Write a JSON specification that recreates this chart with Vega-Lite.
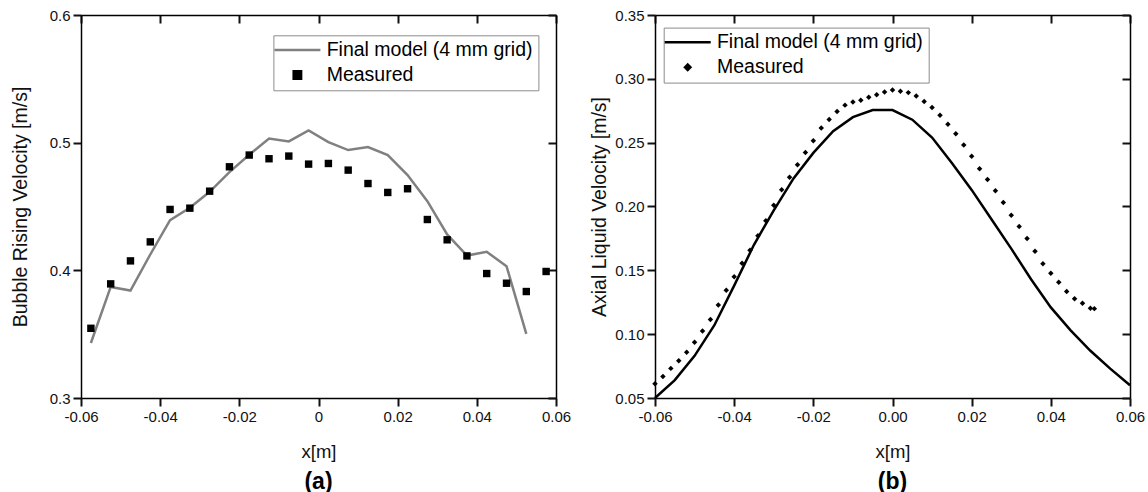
{
  "$schema": "https://vega.github.io/schema/vega-lite/v6.json",
  "background": "white",
  "padding": {"left": 10, "top": 8, "right": 5, "bottom": 5},
  "config": {
    "font": "Liberation Sans",
    "view": {"stroke": null},
    "axis": {
      "grid": false,
      "domainColor": "black",
      "domainWidth": 1.5,
      "labelFont": "Liberation Sans",
      "labelFontSize": 15,
      "labelColor": "#111111",
      "titleFont": "Liberation Sans",
      "titleFontWeight": "normal",
      "titleColor": "#111111"
    },
    "title": {"font": "Liberation Sans", "fontSize": 23, "fontWeight": "bold", "color": "black", "orient": "bottom", "offset": 10}
  },
  "datasets": {
    "a_model": [
      {"series": "Final model (4 mm grid)", "x": -0.0575, "y": 0.3431},
      {"series": "Final model (4 mm grid)", "x": -0.0525, "y": 0.3870},
      {"series": "Final model (4 mm grid)", "x": -0.0475, "y": 0.3842},
      {"series": "Final model (4 mm grid)", "x": -0.0425, "y": 0.4124},
      {"series": "Final model (4 mm grid)", "x": -0.0375, "y": 0.4393},
      {"series": "Final model (4 mm grid)", "x": -0.0325, "y": 0.4490},
      {"series": "Final model (4 mm grid)", "x": -0.0275, "y": 0.4615},
      {"series": "Final model (4 mm grid)", "x": -0.0225, "y": 0.4769},
      {"series": "Final model (4 mm grid)", "x": -0.0175, "y": 0.4905},
      {"series": "Final model (4 mm grid)", "x": -0.0125, "y": 0.5033},
      {"series": "Final model (4 mm grid)", "x": -0.0075, "y": 0.5010},
      {"series": "Final model (4 mm grid)", "x": -0.0025, "y": 0.5096},
      {"series": "Final model (4 mm grid)", "x": 0.0025, "y": 0.5004},
      {"series": "Final model (4 mm grid)", "x": 0.0075, "y": 0.4942},
      {"series": "Final model (4 mm grid)", "x": 0.0125, "y": 0.4965},
      {"series": "Final model (4 mm grid)", "x": 0.0175, "y": 0.4903},
      {"series": "Final model (4 mm grid)", "x": 0.0225, "y": 0.4746},
      {"series": "Final model (4 mm grid)", "x": 0.0275, "y": 0.4542},
      {"series": "Final model (4 mm grid)", "x": 0.0325, "y": 0.4281},
      {"series": "Final model (4 mm grid)", "x": 0.0375, "y": 0.4116},
      {"series": "Final model (4 mm grid)", "x": 0.0425, "y": 0.4145},
      {"series": "Final model (4 mm grid)", "x": 0.0475, "y": 0.4032},
      {"series": "Final model (4 mm grid)", "x": 0.0525, "y": 0.3502}
    ],
    "a_meas": [
      {"series": "Measured", "x": -0.0575, "y": 0.3546},
      {"series": "Measured", "x": -0.0525, "y": 0.3894},
      {"series": "Measured", "x": -0.0475, "y": 0.4074},
      {"series": "Measured", "x": -0.0425, "y": 0.4223},
      {"series": "Measured", "x": -0.0375, "y": 0.4477},
      {"series": "Measured", "x": -0.0325, "y": 0.4487},
      {"series": "Measured", "x": -0.0275, "y": 0.4620},
      {"series": "Measured", "x": -0.0225, "y": 0.4811},
      {"series": "Measured", "x": -0.0175, "y": 0.4903},
      {"series": "Measured", "x": -0.0125, "y": 0.4874},
      {"series": "Measured", "x": -0.0075, "y": 0.4895},
      {"series": "Measured", "x": -0.0025, "y": 0.4832},
      {"series": "Measured", "x": 0.0025, "y": 0.4837},
      {"series": "Measured", "x": 0.0075, "y": 0.4785},
      {"series": "Measured", "x": 0.0125, "y": 0.4680},
      {"series": "Measured", "x": 0.0175, "y": 0.4610},
      {"series": "Measured", "x": 0.0225, "y": 0.4639},
      {"series": "Measured", "x": 0.0275, "y": 0.4398},
      {"series": "Measured", "x": 0.0325, "y": 0.4239},
      {"series": "Measured", "x": 0.0375, "y": 0.4113},
      {"series": "Measured", "x": 0.0425, "y": 0.3975},
      {"series": "Measured", "x": 0.0475, "y": 0.3899},
      {"series": "Measured", "x": 0.0525, "y": 0.3834},
      {"series": "Measured", "x": 0.0575, "y": 0.3991}
    ],
    "b_model": [
      {"series": "Final model (4 mm grid)", "x": -0.060, "y": 0.050},
      {"series": "Final model (4 mm grid)", "x": -0.055, "y": 0.064},
      {"series": "Final model (4 mm grid)", "x": -0.050, "y": 0.083},
      {"series": "Final model (4 mm grid)", "x": -0.045, "y": 0.107},
      {"series": "Final model (4 mm grid)", "x": -0.040, "y": 0.138},
      {"series": "Final model (4 mm grid)", "x": -0.035, "y": 0.170},
      {"series": "Final model (4 mm grid)", "x": -0.030, "y": 0.197},
      {"series": "Final model (4 mm grid)", "x": -0.025, "y": 0.222},
      {"series": "Final model (4 mm grid)", "x": -0.020, "y": 0.242},
      {"series": "Final model (4 mm grid)", "x": -0.015, "y": 0.259},
      {"series": "Final model (4 mm grid)", "x": -0.010, "y": 0.270},
      {"series": "Final model (4 mm grid)", "x": -0.005, "y": 0.2755},
      {"series": "Final model (4 mm grid)", "x": 0.000, "y": 0.2755},
      {"series": "Final model (4 mm grid)", "x": 0.005, "y": 0.268},
      {"series": "Final model (4 mm grid)", "x": 0.010, "y": 0.254},
      {"series": "Final model (4 mm grid)", "x": 0.015, "y": 0.234},
      {"series": "Final model (4 mm grid)", "x": 0.020, "y": 0.213},
      {"series": "Final model (4 mm grid)", "x": 0.025, "y": 0.190},
      {"series": "Final model (4 mm grid)", "x": 0.030, "y": 0.167},
      {"series": "Final model (4 mm grid)", "x": 0.035, "y": 0.143},
      {"series": "Final model (4 mm grid)", "x": 0.040, "y": 0.121},
      {"series": "Final model (4 mm grid)", "x": 0.045, "y": 0.103},
      {"series": "Final model (4 mm grid)", "x": 0.050, "y": 0.087},
      {"series": "Final model (4 mm grid)", "x": 0.055, "y": 0.073},
      {"series": "Final model (4 mm grid)", "x": 0.060, "y": 0.060}
    ],
    "b_meas": [
      {"series": "Measured", "x": -0.060, "y": 0.0612},
      {"series": "Measured", "x": -0.058, "y": 0.0669},
      {"series": "Measured", "x": -0.056, "y": 0.0732},
      {"series": "Measured", "x": -0.054, "y": 0.0792},
      {"series": "Measured", "x": -0.052, "y": 0.0858},
      {"series": "Measured", "x": -0.050, "y": 0.0936},
      {"series": "Measured", "x": -0.048, "y": 0.1025},
      {"series": "Measured", "x": -0.046, "y": 0.1114},
      {"series": "Measured", "x": -0.044, "y": 0.1229},
      {"series": "Measured", "x": -0.042, "y": 0.1344},
      {"series": "Measured", "x": -0.040, "y": 0.1449},
      {"series": "Measured", "x": -0.038, "y": 0.1555},
      {"series": "Measured", "x": -0.036, "y": 0.1657},
      {"series": "Measured", "x": -0.034, "y": 0.1770},
      {"series": "Measured", "x": -0.032, "y": 0.1888},
      {"series": "Measured", "x": -0.030, "y": 0.2010},
      {"series": "Measured", "x": -0.028, "y": 0.2131},
      {"series": "Measured", "x": -0.026, "y": 0.2230},
      {"series": "Measured", "x": -0.024, "y": 0.2327},
      {"series": "Measured", "x": -0.022, "y": 0.2423},
      {"series": "Measured", "x": -0.020, "y": 0.2515},
      {"series": "Measured", "x": -0.018, "y": 0.2614},
      {"series": "Measured", "x": -0.016, "y": 0.2682},
      {"series": "Measured", "x": -0.014, "y": 0.2745},
      {"series": "Measured", "x": -0.012, "y": 0.2794},
      {"series": "Measured", "x": -0.010, "y": 0.2818},
      {"series": "Measured", "x": -0.008, "y": 0.2833},
      {"series": "Measured", "x": -0.006, "y": 0.2855},
      {"series": "Measured", "x": -0.004, "y": 0.2876},
      {"series": "Measured", "x": -0.002, "y": 0.2896},
      {"series": "Measured", "x": 0.000, "y": 0.2912},
      {"series": "Measured", "x": 0.002, "y": 0.2902},
      {"series": "Measured", "x": 0.004, "y": 0.2892},
      {"series": "Measured", "x": 0.006, "y": 0.2865},
      {"series": "Measured", "x": 0.008, "y": 0.2823},
      {"series": "Measured", "x": 0.010, "y": 0.2776},
      {"series": "Measured", "x": 0.012, "y": 0.2714},
      {"series": "Measured", "x": 0.014, "y": 0.2645},
      {"series": "Measured", "x": 0.016, "y": 0.2570},
      {"series": "Measured", "x": 0.018, "y": 0.2481},
      {"series": "Measured", "x": 0.020, "y": 0.2394},
      {"series": "Measured", "x": 0.022, "y": 0.2296},
      {"series": "Measured", "x": 0.024, "y": 0.2212},
      {"series": "Measured", "x": 0.026, "y": 0.2123},
      {"series": "Measured", "x": 0.028, "y": 0.2031},
      {"series": "Measured", "x": 0.030, "y": 0.1932},
      {"series": "Measured", "x": 0.032, "y": 0.1843},
      {"series": "Measured", "x": 0.034, "y": 0.1749},
      {"series": "Measured", "x": 0.036, "y": 0.1649},
      {"series": "Measured", "x": 0.038, "y": 0.1551},
      {"series": "Measured", "x": 0.040, "y": 0.1477},
      {"series": "Measured", "x": 0.042, "y": 0.1406},
      {"series": "Measured", "x": 0.044, "y": 0.1335},
      {"series": "Measured", "x": 0.046, "y": 0.1278},
      {"series": "Measured", "x": 0.048, "y": 0.1242},
      {"series": "Measured", "x": 0.050, "y": 0.1203},
      {"series": "Measured", "x": 0.051, "y": 0.1200}
    ]
  },
  "hconcat": [
    {
      "width": 475,
      "height": 383,
      "title": {"text": "(a)"},
      "resolve": {"axis": {"x": "independent", "y": "independent"}},
      "layer": [
        {
          "data": {"name": "a_model"},
          "mark": {"type": "line", "strokeWidth": 2.5, "clip": false},
          "encoding": {
            "x": {"field": "x", "type": "quantitative",
              "scale": {"domain": [-0.06, 0.06], "nice": false, "zero": false},
              "axis": {"orient": "bottom", "title": "x[m]", "titleFontSize": 18.5, "titlePadding": 18,
                "values": [-0.06, -0.04, -0.02, 0, 0.02, 0.04, 0.06],
                "labelExpr": "datum.value == 0 ? '0' : replace(format(datum.value, '.2f'), '\u2212', '-')",
                "tickColor": "#111111", "tickWidth": 2, "tickSize": 8,
                "labelPadding": 3, "labelFlush": false}},
            "y": {"field": "y", "type": "quantitative",
              "scale": {"domain": [0.3, 0.6], "nice": false, "zero": false},
              "axis": {"orient": "left", "title": "Bubble Rising Velocity [m/s]", "titleFontSize": 19.5, "titlePadding": 19,
                "values": [0.3, 0.4, 0.5, 0.6],
                "format": ".1f",
                "tickColor": "#111111", "tickWidth": 2, "tickSize": 8,
                "labelPadding": 3, "labelFlush": false}},
            "color": {"field": "series", "type": "nominal",
              "scale": {"domain": ["Final model (4 mm grid)", "Measured"], "range": ["#808080", "#000000"]},
              "legend": {"orient": "none", "legendX": 192.4, "legendY": 20.3, "title": null,
                "padding": 5, "strokeColor": "#8c8c8c", "fillColor": "white",
                "labelFont": "Liberation Sans", "labelFontSize": 19.5, "labelColor": "black", "labelLimit": 400,
                "symbolOffset": 9.25, "labelOffset": 19.5, "rowPadding": 4,
                "encode": {"symbols": {"update": {
                  "shape": {"signal": "datum.value === 'Measured' ? 'square' : 'M-4.6,0L4.6,0'"},
                  "size": {"signal": "datum.value === 'Measured' ? 55 : 100"},
                  "fill": {"signal": "datum.value === 'Measured' ? 'black' : 'transparent'"},
                  "stroke": {"signal": "datum.value === 'Measured' ? 'transparent' : '#808080'"},
                  "strokeWidth": {"value": 2.5},
                  "opacity": {"value": 1}
                }}}}}
          }
        },
        {
          "data": {"name": "a_meas"},
          "mark": {"type": "point", "shape": "square", "filled": true, "size": 55, "opacity": 1, "clip": false},
          "encoding": {
            "x": {"field": "x", "type": "quantitative",
              "axis": {"orient": "top", "title": null, "labels": false,
                "values": [-0.06, -0.04, -0.02, 0, 0.02, 0.04, 0.06],
                "tickColor": "#111111", "tickWidth": 2, "tickSize": -8}},
            "y": {"field": "y", "type": "quantitative",
              "axis": {"orient": "right", "title": null, "labels": false,
                "values": [0.3, 0.4, 0.5, 0.6],
                "tickColor": "#111111", "tickWidth": 2, "tickSize": -8}},
            "color": {"field": "series", "type": "nominal"}
          }
        }
      ]
    },
    {
      "width": 475,
      "height": 383,
      "title": {"text": "(b)"},
      "resolve": {"axis": {"x": "independent", "y": "independent"}},
      "layer": [
        {
          "data": {"name": "b_model"},
          "mark": {"type": "line", "strokeWidth": 2.5, "clip": false},
          "encoding": {
            "x": {"field": "x", "type": "quantitative",
              "scale": {"domain": [-0.06, 0.06], "nice": false, "zero": false},
              "axis": {"orient": "bottom", "title": "x[m]", "titleFontSize": 18.5, "titlePadding": 18,
                "values": [-0.06, -0.04, -0.02, 0, 0.02, 0.04, 0.06],
                "labelExpr": "replace(format(datum.value, '.2f'), '\u2212', '-')",
                "tickColor": "#111111", "tickWidth": 2, "tickSize": 8,
                "labelPadding": 3, "labelFlush": false}},
            "y": {"field": "y", "type": "quantitative",
              "scale": {"domain": [0.05, 0.35], "nice": false, "zero": false},
              "axis": {"orient": "left", "title": "Axial Liquid Velocity [m/s]", "titleFontSize": 19.5, "titlePadding": 5,
                "values": [0.05, 0.1, 0.15, 0.2, 0.25, 0.3, 0.35],
                "format": ".2f",
                "tickColor": "#111111", "tickWidth": 2, "tickSize": 8,
                "labelPadding": 3, "labelFlush": false}},
            "color": {"field": "series", "type": "nominal",
              "scale": {"domain": ["Final model (4 mm grid)", "Measured"], "range": ["#000000", "#000000"]},
              "legend": {"orient": "none", "legendX": 8.7, "legendY": 12.6, "title": null,
                "padding": 5, "strokeColor": "#8c8c8c", "fillColor": "white",
                "labelFont": "Liberation Sans", "labelFontSize": 19.5, "labelColor": "black", "labelLimit": 400,
                "symbolOffset": 9.25, "labelOffset": 19.5, "rowPadding": 4,
                "encode": {"symbols": {"update": {
                  "shape": {"signal": "datum.value === 'Measured' ? 'diamond' : 'M-4.6,0L4.6,0'"},
                  "size": {"signal": "datum.value === 'Measured' ? 30 : 100"},
                  "fill": {"signal": "datum.value === 'Measured' ? 'black' : 'transparent'"},
                  "stroke": {"signal": "datum.value === 'Measured' ? 'transparent' : '#000000'"},
                  "strokeWidth": {"value": 2.5},
                  "opacity": {"value": 1}
                }}}}}
          }
        },
        {
          "data": {"name": "b_meas"},
          "mark": {"type": "point", "shape": "diamond", "filled": true, "size": 30, "opacity": 1, "clip": false},
          "encoding": {
            "x": {"field": "x", "type": "quantitative",
              "axis": {"orient": "top", "title": null, "labels": false,
                "values": [-0.06, -0.04, -0.02, 0, 0.02, 0.04, 0.06],
                "tickColor": "#111111", "tickWidth": 2, "tickSize": -8}},
            "y": {"field": "y", "type": "quantitative",
              "axis": {"orient": "right", "title": null, "labels": false,
                "values": [0.05, 0.1, 0.15, 0.2, 0.25, 0.3, 0.35],
                "tickColor": "#111111", "tickWidth": 2, "tickSize": -8}},
            "color": {"field": "series", "type": "nominal"}
          }
        }
      ]
    }
  ],
  "spacing": 99,
  "bounds": "flush",
  "resolve": {"scale": {"color": "independent"}, "legend": {"color": "independent"}}
}
